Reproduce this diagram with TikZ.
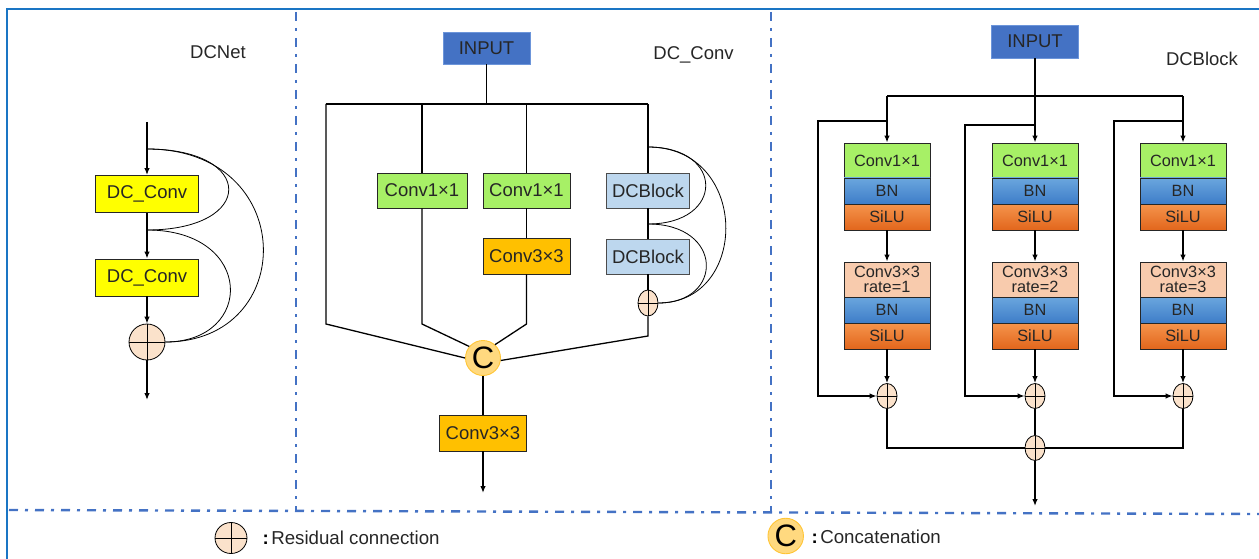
\documentclass[tikz,border=0pt]{standalone}
\usepackage{fontspec}
\setmainfont{Liberation Sans}
\usetikzlibrary{arrows.meta,shapes.geometric}
\definecolor{framecol}{HTML}{1A75C4}
\definecolor{sepcol}{HTML}{4472C4}
\definecolor{txt}{HTML}{262626}
\definecolor{yelc}{HTML}{FFFF00}
\definecolor{greenc}{HTML}{A7F066}
\definecolor{orangec}{HTML}{FFC000}
\definecolor{lblue}{HTML}{BDD7EE}
\definecolor{inputc}{HTML}{4472C4}
\definecolor{inputb}{HTML}{6C95DA}
\definecolor{resfill}{HTML}{FBE2CB}
\definecolor{catfill}{HTML}{FFD97F}
\definecolor{catdraw}{HTML}{FFC535}
\definecolor{peach}{HTML}{F8CBAD}
\definecolor{bntop}{HTML}{6AA6DE}
\definecolor{bnbot}{HTML}{3E7DC8}
\definecolor{silutop}{HTML}{F5944C}
\definecolor{silubot}{HTML}{E2661C}
\newcommand{\fsz}[1]{\fontsize{#1}{#1}\selectfont}
\begin{document}
\begin{tikzpicture}[x=1pt,y=-1pt,
  base/.style={draw=black!85, line width=0.9pt, inner sep=0pt, text=txt, font=\fsz{18.5}},
  yelbox/.style={base, fill=yelc, minimum width=103, minimum height=37},
  greenbox/.style={base, fill=greenc, minimum height=35},
  orbox/.style={base, fill=orangec, minimum width=87, minimum height=36},
  dcbox/.style={base, fill=lblue, draw=black!70, minimum width=83, minimum height=35},
  inbox/.style={base, fill=inputc, draw=inputb, minimum width=87, minimum height=33},
  st/.style={base, font=\fsz{16.3}, minimum width=86},
  stconv/.style={st, fill=greenc, minimum height=35},
  stbn/.style={st, top color=bntop, bottom color=bnbot, minimum height=26},
  stsilu/.style={st, top color=silutop, bottom color=silubot, minimum height=26},
  strate/.style={st, fill=peach, minimum height=35, align=center, font=\fontsize{16.3}{15}\selectfont},
  res/.style={ellipse, draw=black, fill=resfill, inner sep=0pt, line width=0.8pt,
    path picture={\draw[line width=0.8pt] (path picture bounding box.north) -- (path picture bounding box.south)
      (path picture bounding box.west) -- (path picture bounding box.east);}},
  cat/.style={circle, draw=catdraw, fill=catfill, line width=0.9pt, inner sep=0pt, minimum size=35,
    text=black, font=\fsz{31}},
  ln/.style={draw=black, line width=1.3pt},
  arr/.style={ln, -{Latex[length=7pt,width=5.5pt]}},
  skip/.style={draw=black, line width=0.8pt},
  ttl/.style={text=txt, font=\fsz{18.5}, anchor=base},
  sep/.style={draw=sepcol, line width=2.4pt, dash pattern=on 9pt off 7pt on 3pt off 7pt}
]
\useasboundingbox (0,0) rectangle (1259,559);

% frame and panel separators
\draw[sep] (296,12) -- (296,511);
\draw[sep] (771,12) -- (771,512);
\draw[sep] (9,510) -- (1259,514);
\draw[framecol, line width=2.6pt] (7,559) -- (7,9) -- (1259,9);

% ---------------- DCNet ----------------
\node[ttl] (tnet) at (218,59) {DCNet};
\coordinate (nin) at (147,122);
\node[yelbox] (dc1) at (147,194) {DC\_Conv};
\node[yelbox] (dc2) at (147,277.5) {DC\_Conv};
\node[res, minimum width=36, minimum height=36] (nres) at (147,342) {};
\coordinate (u1) at (147,149);
\coordinate (u2) at (147,230);
\coordinate (nout) at (147,400);
\draw[arr] (nin) -- (dc1.north);
\draw[arr] (dc1.south) -- (dc2.north);
\draw[arr] (dc2.south) -- (nres.north);
\draw[arr] (nres.south) -- (nout);
\draw[skip] (u1) .. controls (256,149) and (256,230) .. (u2);
\draw[skip] (u1) .. controls (299,149) and (299,342) .. (nres.east);
\draw[skip] (u2) .. controls (255,230) and (255,342) .. (nres.east);

% ---------------- DC_Conv ----------------
\node[ttl] (tconv) at (693.5,60) {DC\_Conv};
\node[inbox, minimum height=32] (inA) at (486.5,48) {INPUT};
\coordinate (p0) at (486.5,104);
\coordinate (p1) at (326,104);
\coordinate (p2) at (422,104);
\coordinate (p3) at (526.5,104);
\coordinate (p4) at (648,104);
\node[greenbox, minimum width=90] (g1) at (422,190.5) {Conv1×1};
\node[greenbox, minimum width=87] (g2) at (526.5,190.5) {Conv1×1};
\node[orbox] (o1) at (526.5,256) {Conv3×3};
\node[dcbox] (d1) at (648,190.5) {DCBlock};
\node[dcbox] (d2) at (648,256.5) {DCBlock};
\node[res, minimum width=20, minimum height=26] (rs) at (648,303) {};
\node[cat] (C) at (483,358) {C};
\node[orbox] (o2) at (483,433) {Conv3×3};
\coordinate (q1) at (326,324);
\coordinate (q2) at (422,324);
\coordinate (q3) at (526.5,324);
\coordinate (q4) at (648,336);
\coordinate (t1) at (648,147);
\coordinate (t2) at (648,224);
\coordinate (cout) at (483,493);
\draw[ln] (inA.south) -- (p0);
\draw[ln] (p1) -- (p4);
\draw[ln] (p1) -- (q1) -- (C.west);
\draw[ln] (p2) -- (g1.north);
\draw[ln] (g1.south) -- (q2) -- (C.140);
\draw[ln] (p3) -- (g2.north);
\draw[ln] (g2.south) -- (o1.north);
\draw[ln] (o1.south) -- (q3) -- (C.48);
\draw[ln] (p4) -- (d1.north);
\draw[ln] (d1.south) -- (d2.north);
\draw[ln] (d2.south) -- (rs.north);
\draw[ln] (rs.south) -- (q4) -- (C.-8);
\draw[ln] (C.south) -- (o2.north);
\draw[arr] (o2.south) -- (cout);
\draw[skip] (t1) .. controls (725,147) and (725,224) .. (t2);
\draw[skip] (t1) .. controls (750,147) and (750,303) .. (rs.east);
\draw[skip] (t2) .. controls (724,224) and (724,303) .. (rs.east);

% ---------------- DCBlock ----------------
\node[ttl] (tblk) at (1202,65.5) {DCBlock};
\node[inbox] (inB) at (1035,41.5) {INPUT};
\coordinate (j1) at (887,96);
\coordinate (j2) at (1035,96);
\coordinate (j3) at (1183,96);
\foreach \c/\x/\r in {a/887/1,b/1035/2,c/1183/3}{
  \node[stconv] (cv\c) at (\x,160.5) {Conv1×1};
  \node[stbn] (bn\c) at (\x,191) {BN};
  \node[stsilu] (si\c) at (\x,217) {SiLU};
  \node[strate] (rt\c) at (\x,279.5) {Conv3×3\\rate=\r};
  \node[stbn] (bm\c) at (\x,310) {BN};
  \node[stsilu] (sm\c) at (\x,336) {SiLU};
  \node[res, minimum width=20, minimum height=25] (r\c) at (\x,396) {};
  \draw[arr] (si\c.south) -- (rt\c.north);
  \draw[arr] (sm\c.south) -- (r\c.north);
}
\node[res, minimum width=20, minimum height=25] (mg) at (1035,448) {};
\coordinate (bya) at (887,121);
\coordinate (byb) at (1035,125);
\coordinate (byc) at (1183,121);
\coordinate (bout) at (1035,506);
\draw[ln] (inB.south) -- (j2);
\draw[ln] (j1) -- (j3);
\draw[arr] (j1) -- (cva.north);
\draw[arr] (j2) -- (cvb.north);
\draw[arr] (j3) -- (cvc.north);
\draw[arr] (bya) -- ++(-69,0) |- (ra.west);
\draw[arr] (byb) -- ++(-70,0) |- (rb.west);
\draw[arr] (byc) -- ++(-69,0) |- (rc.west);
\draw[ln] (ra.south) |- (mg.west);
\draw[ln] (rc.south) |- (mg.east);
\draw[ln] (rb.south) -- (mg.north);
\draw[arr] (mg.south) -- (bout);

% ---------------- legend ----------------
\node[res, minimum width=32, minimum height=31] (lres) at (231,538) {};
\node[anchor=base west, text=txt, font=\fsz{18.7}] (lrt) at (259,544) {\textcolor{black}{\bfseries :}\kern2.5pt Residual connection};
\node[cat, minimum size=35.5] (lcat) at (785.7,536) {C};
\node[anchor=base west, text=txt, font=\fsz{18.7}] (lct) at (808,543) {\textcolor{black}{\bfseries :}\kern2.5pt Concatenation};
\end{tikzpicture}
\end{document}
